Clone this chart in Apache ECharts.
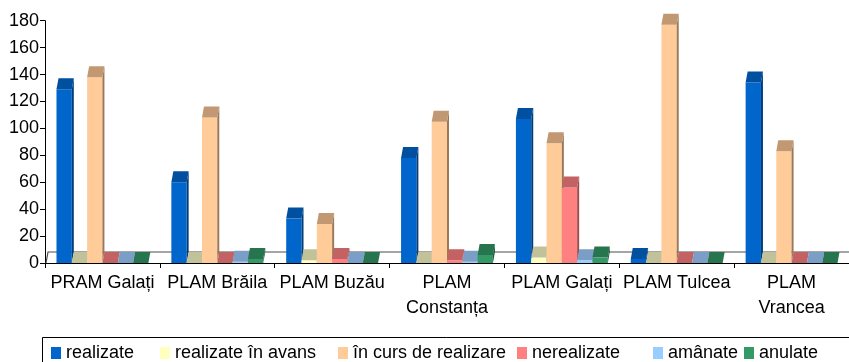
<!DOCTYPE html>
<html>
<head>
<meta charset="utf-8">
<script src="https://cdn.jsdelivr.net/npm/echarts@6/dist/echarts.min.js"></script>
<style>
  html, body { margin: 0; padding: 0; background: #ffffff; }
  #chart { width: 849px; height: 362px; }
</style>
</head>
<body>
<div id="chart"></div>
<script>
// Categories (regional units) and task counts per status
const categories = ['PRAM Galați', 'PLAM Brăila', 'PLAM Buzău', 'PLAM\nConstanța', 'PLAM Galați', 'PLAM Tulcea', 'PLAM\nVrancea'];
const seriesNames = ['realizate', 'realizate în avans', 'în curs de realizare', 'nerealizate', 'amânate', 'anulate'];

const realizate          = [129, 60, 33, 78, 107, 3, 134];
const realizateInAvans   = [0, 0, 2, 0, 4, 0, 0];
const inCursDeRealizare  = [138, 108, 29, 105, 89, 177, 83];
const nerealizate        = [0, 0, 3, 2, 56, 0, 0];
const amanate            = [0, 1, 0, 1, 2, 0, 0];
const anulate            = [0, 3, 0, 6, 4, 0, 0];

const yMin = 0, yMax = 180, yStep = 20;

const seriesValues = [realizate, realizateInAvans, inCursDeRealizare, nerealizate, amanate, anulate];

// front face, top face, side face colours for each status
const frontColors = ['#0066cc', '#ffffc0', '#ffcc99', '#ff8080', '#99ccff', '#339966'];
const topColors   = ['#00509f', '#c2c29a', '#c29872', '#c26262', '#7b9ec6', '#27754f'];
const sideColors  = ['#003d7a', '#9a9a7a', '#9a7858', '#9a4c4c', '#5e7c9e', '#1d5a3c'];

// legend item x positions
const legendLeft = [51, 160, 338, 517, 653, 744];

const FONT = '"Liberation Sans", Arial, sans-serif';
const GROUP = 0.8;   // share of a category band taken by the bar cluster
const DX = 2;        // oblique depth offset, px
const DY = 11;

function barRenderer(k) {
  return function (params, api) {
    const cat = api.value(0);
    const val = api.value(1);
    const base = api.coord([cat, 0]);
    const top = api.coord([cat, val]);
    const band = api.size([1, 0])[0];
    const w = band * GROUP / seriesNames.length;
    const x = base[0] - band * GROUP / 2 + k * w;
    const y0 = base[1];
    const y1 = top[1];
    return {
      type: 'group',
      children: [
        { type: 'rect', shape: { x: x, y: y1, width: w, height: y0 - y1 }, style: { fill: frontColors[k] } },
        { type: 'polygon', shape: { points: [[x + w, y0], [x + w, y1], [x + w + DX, y1 - DY], [x + w + DX, y0 - DY]] }, style: { fill: sideColors[k] } },
        { type: 'polygon', shape: { points: [[x, y1], [x + w, y1], [x + w + DX, y1 - DY], [x + DX, y1 - DY]] }, style: { fill: topColors[k] } }
      ]
    };
  };
}

// floor outline of the 3D plot
function floorRenderer(params, api) {
  const cs = params.coordSys;
  const yb = cs.y + cs.height;
  return {
    type: 'polyline',
    shape: { points: [[cs.x + 1, yb], [cs.x + 1 + DX, yb - DY], [cs.x + cs.width + 20, yb - DY]] },
    style: { stroke: '#4d4d4d', lineWidth: 1.2, fill: null }
  };
}

const series = [{
  type: 'custom',
  renderItem: floorRenderer,
  data: [[0, 0]],
  z: 1,
  silent: true
}].concat(seriesNames.map((name, k) => ({
  name: name,
  type: 'custom',
  renderItem: barRenderer(k),
  itemStyle: { color: frontColors[k] },
  encode: { x: 0, y: 1 },
  data: seriesValues[k].map((v, i) => [i, v]),
  z: 2 + k
})));

const chart = echarts.init(document.getElementById('chart'), null, { renderer: 'canvas' });
chart.setOption({
  animation: false,
  backgroundColor: '#ffffff',
  grid: { left: 45, top: 20.7, width: 810, height: 242.3, containLabel: false },
  xAxis: {
    type: 'category',
    data: categories,
    axisLine: { show: true, lineStyle: { color: '#000', width: 1 } },
    axisTick: { show: true, length: 5, lineStyle: { color: '#000' } },
    axisLabel: { interval: 0, color: '#000', fontSize: 18, lineHeight: 25, margin: 8, fontFamily: FONT },
    splitLine: { show: false }
  },
  yAxis: {
    type: 'value',
    min: yMin, max: yMax, interval: yStep,
    axisLine: { show: true, lineStyle: { color: '#000', width: 1 } },
    axisTick: { show: true, length: 5, lineStyle: { color: '#000' } },
    axisLabel: { color: '#000', fontSize: 18, margin: 6, fontFamily: FONT },
    splitLine: { show: false }
  },
  legend: seriesNames.map((name, i) => ({
    data: [name],
    left: legendLeft[i],
    top: 344,
    padding: 0,
    icon: 'rect',
    itemWidth: 10,
    itemHeight: 12,
    selectedMode: false,
    textStyle: { color: '#000', fontSize: 18, lineHeight: 18, fontFamily: FONT }
  })),
  graphic: [{
    type: 'rect',
    shape: { x: 42.5, y: 337.5, width: 900, height: 40 },
    style: { fill: null, stroke: '#000', lineWidth: 1 },
    silent: true
  }],
  series: series
});
</script>
</body>
</html>
